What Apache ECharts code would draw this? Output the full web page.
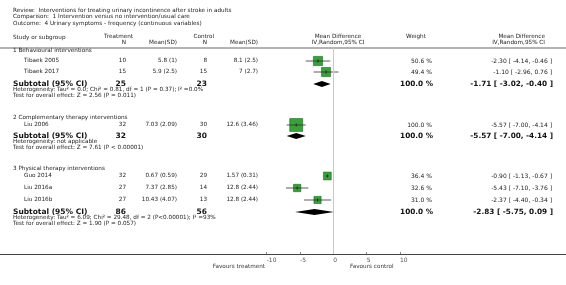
<!DOCTYPE html>
<html>
<head>
<meta charset="utf-8">
<script src="https://cdn.jsdelivr.net/npm/echarts@6/dist/echarts.min.js"></script>
<style>
  html, body { margin: 0; padding: 0; background: #fff; }
  #chart { width: 566px; height: 285px; }
</style>
</head>
<body>
<div id="chart"></div>
<script>
// data
const groups = ['1 Behavioural interventions', '2 Complementary therapy interventions', '3 Physical therapy interventions'];
const studies = ['Tibaek 2005', 'Tibaek 2017', 'Liu 2006', 'Guo 2014', 'Liu 2016a', 'Liu 2016b'];
const treatN = [10, 15, 32, 32, 27, 27];
const treatMean = [5.8, 5.9, 7.03, 0.67, 7.37, 10.43];
const treatSD = [1, 2.5, 2.09, 0.59, 2.85, 4.07];
const ctrlN = [8, 15, 30, 29, 14, 13];
const ctrlMean = [8.1, 7, 12.6, 1.57, 12.8, 12.8];
const ctrlSD = [2.5, 2.7, 3.46, 0.31, 2.44, 2.44];
const weights = [50.6, 49.4, 100.0, 36.4, 32.6, 31.0];
const md = [-2.30, -1.10, -5.57, -0.90, -5.43, -2.37];
const mdLo = [-4.14, -2.96, -7.00, -1.13, -7.10, -4.40];
const mdHi = [-0.46, 0.76, -4.14, -0.67, -3.76, -0.34];
const subTreatN = [25, 32, 86];
const subCtrlN = [23, 30, 56];
const subMd = [-1.71, -5.57, -2.83];
const subLo = [-3.02, -7.00, -5.75];
const subHi = [-0.40, -4.14, 0.09];
const heterogeneity = [
  'Heterogeneity: Tau² = 0.0; Chi² = 0.81, df = 1 (P = 0.37); I² =0.0%',
  'Heterogeneity: not applicable',
  'Heterogeneity: Tau² = 6.09; Chi² = 29.48, df = 2 (P<0.00001); I² =93%'
];
const overallEffect = [
  'Test for overall effect: Z = 2.56 (P = 0.011)',
  'Test for overall effect: Z = 7.61 (P < 0.00001)',
  'Test for overall effect: Z = 1.90 (P = 0.057)'
];
const xTicks = [-10, -5, 0, 5, 10];
const titleLines = [
  'Review:  Interventions for treating urinary incontinence after stroke in adults',
  'Comparison:  1 Intervention versus no intervention/usual care',
  'Outcome:  4 Urinary symptoms - frequency (continuous variables)'
];

// layout (pixel rows / columns)
const groupY = [51, 118, 169];
const studyY = [61, 72, 125, 176, 188, 200];
const subY = [84, 136, 212];
const hetY = [90, 142, 218];
const testY = [96, 148, 224];
const titleY = [11, 17, 24];
const FONT = '"DejaVu Sans", sans-serif';
const SMALL = 5.7;

const chart = echarts.init(document.getElementById('chart'));

function txt(s, x, y, opt) {
  opt = opt || {};
  const size = opt.size || SMALL;
  const align = opt.align || 'left';
  return {
    type: 'text', x: x, y: y, silent: true,
    style: {
      text: s,
      font: (opt.bold ? 'bold ' : '') + size + 'px ' + FONT,
      fill: opt.color || '#222',
      align: align, textAlign: align,
      verticalAlign: 'middle', textVerticalAlign: 'middle'
    }
  };
}
const f2 = v => v.toFixed(2);
const ciText = (m, l, h) => f2(m) + ' [ ' + f2(l) + ', ' + f2(h) + ' ]';

const g = [];
titleLines.forEach((t, i) => g.push(txt(t, 13, titleY[i])));
// header
g.push(txt('Study or subgroup', 13, 38));
g.push(txt('Treatment', 133, 37, { align: 'right' }));
g.push(txt('N', 126, 43, { align: 'right' }));
g.push(txt('Mean(SD)', 177, 43, { align: 'right' }));
g.push(txt('Control', 214, 37, { align: 'right' }));
g.push(txt('N', 207, 43, { align: 'right' }));
g.push(txt('Mean(SD)', 258, 43, { align: 'right' }));
g.push(txt('Mean Difference', 338, 37, { align: 'center' }));
g.push(txt('IV,Random,95% CI', 338, 43, { align: 'center' }));
g.push(txt('Weight', 416, 37, { align: 'center' }));
g.push(txt('Mean Difference', 545, 37, { align: 'right' }));
g.push(txt('IV,Random,95% CI', 545, 43, { align: 'right' }));
g.push({ type: 'line', silent: true, shape: { x1: 0, y1: 48, x2: 566, y2: 48 }, style: { stroke: '#666', lineWidth: 1 } });

groups.forEach((name, gi) => g.push(txt(name, 13, groupY[gi])));
studies.forEach((name, i) => {
  const y = studyY[i];
  g.push(txt(name, 24, y));
  g.push(txt(String(treatN[i]), 126, y, { align: 'right' }));
  g.push(txt(treatMean[i] + ' (' + treatSD[i] + ')', 177, y, { align: 'right' }));
  g.push(txt(String(ctrlN[i]), 207, y, { align: 'right' }));
  g.push(txt(ctrlMean[i] + ' (' + ctrlSD[i] + ')', 258, y, { align: 'right' }));
  g.push(txt(weights[i].toFixed(1) + ' %', 432, y, { align: 'right', size: 6 }));
  g.push(txt(ciText(md[i], mdLo[i], mdHi[i]), 552, y, { align: 'right', size: 6 }));
});
subMd.forEach((m, k) => {
  const y = subY[k];
  g.push(txt('Subtotal (95% CI)', 13, y, { bold: true, size: 7.5, color: '#111' }));
  g.push(txt(String(subTreatN[k]), 126, y, { align: 'right', bold: true, size: 7.5, color: '#111' }));
  g.push(txt(String(subCtrlN[k]), 207, y, { align: 'right', bold: true, size: 7.5, color: '#111' }));
  g.push(txt('100.0 %', 433, y, { align: 'right', bold: true, size: 7.3, color: '#111' }));
  g.push(txt(ciText(m, subLo[k], subHi[k]), 553, y, { align: 'right', bold: true, size: 7.3, color: '#111' }));
  g.push(txt(heterogeneity[k], 13, hetY[k]));
  g.push(txt(overallEffect[k], 13, testY[k]));
});
g.push(txt('Favours treatment', 265, 267, { align: 'right', color: '#333' }));
g.push(txt('Favours control', 350, 267, { color: '#333' }));

const boxData = studies.map((s, i) => ({ value: [md[i], studyY[i]], symbolSize: 13 * Math.sqrt(weights[i] / 100) }));
const ciData = studies.map((s, i) => [mdLo[i], mdHi[i], md[i], studyY[i]]);
const diamondData = subMd.map((m, k) => [subLo[k], subHi[k], m, subY[k]]);

chart.setOption({
  animation: false,
  grid: { left: 0, right: 0, top: 48, bottom: 31 },
  xAxis: {
    type: 'value', min: -50, max: 34.9,
    splitLine: { show: false },
    axisLine: { show: true, lineStyle: { color: '#444', width: 1 } },
    axisTick: { show: true, inside: true, length: 2, customValues: xTicks, lineStyle: { color: '#888' } },
    axisLabel: { customValues: xTicks, align: 'left', margin: 3, fontSize: 6, fontFamily: 'DejaVu Sans', color: '#555' }
  },
  yAxis: { type: 'value', inverse: true, min: 48, max: 254, show: false },
  graphic: g,
  series: [
    {
      type: 'scatter', symbol: 'rect', data: boxData, z: 2,
      itemStyle: { color: '#088a08', borderColor: '#045204', borderWidth: 0.6 },
      markLine: {
        silent: true, symbol: 'none', label: { show: false },
        lineStyle: { color: '#c8c8c8', width: 1, type: 'solid' },
        data: [{ xAxis: 0 }]
      }
    },
    {
      type: 'custom', data: ciData, z: 3,
      renderItem: (params, api) => {
        const a = api.coord([api.value(0), api.value(3)]);
        const b = api.coord([api.value(1), api.value(3)]);
        const c = api.coord([api.value(2), api.value(3)]);
        return {
          type: 'group', children: [
            { type: 'line', shape: { x1: a[0], y1: a[1], x2: b[0], y2: b[1] }, style: { stroke: '#333', lineWidth: 0.8 } },
            { type: 'line', shape: { x1: c[0], y1: c[1] - 1.5, x2: c[0], y2: c[1] + 1.5 }, style: { stroke: '#111', lineWidth: 0.8 } }
          ]
        };
      }
    },
    {
      type: 'custom', data: diamondData, z: 3,
      renderItem: (params, api) => {
        const a = api.coord([api.value(0), api.value(3)]);
        const b = api.coord([api.value(1), api.value(3)]);
        const c = api.coord([api.value(2), api.value(3)]);
        return {
          type: 'polygon',
          shape: { points: [[a[0], a[1]], [c[0], c[1] - 3], [b[0], b[1]], [c[0], c[1] + 3]] },
          style: { fill: '#000' }
        };
      }
    }
  ]
});
</script>
</body>
</html>
